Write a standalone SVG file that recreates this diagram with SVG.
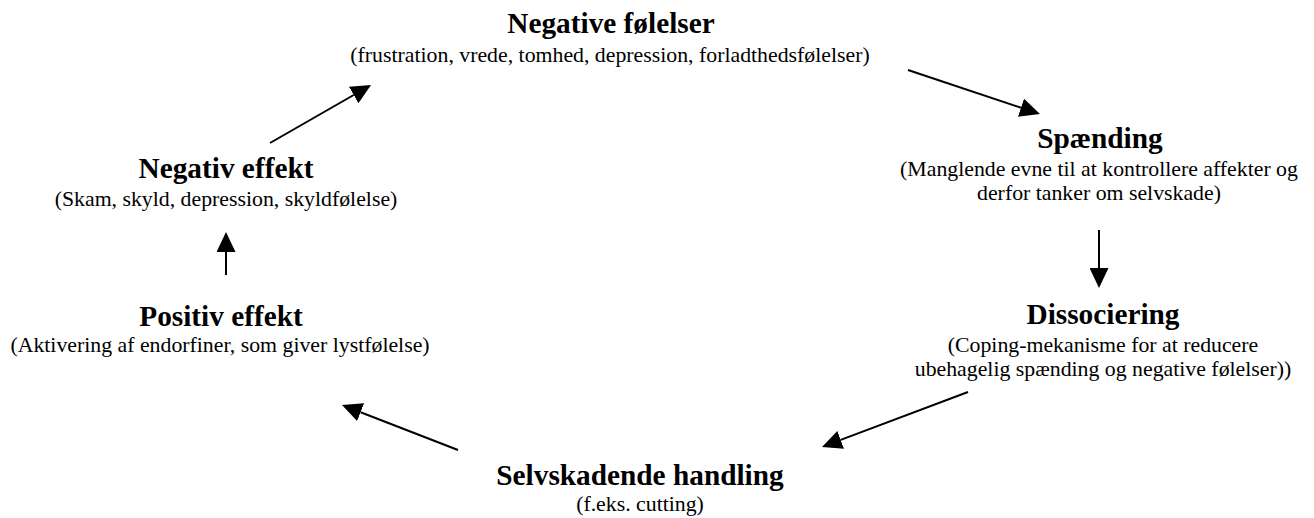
<svg xmlns="http://www.w3.org/2000/svg" width="1314" height="518" viewBox="0 0 1314 518">
<style>
.t{font-family:"Liberation Serif","Times New Roman",serif;font-weight:bold;font-size:29.3px;fill:#000;text-anchor:middle}
.s{font-family:"Liberation Serif","Times New Roman",serif;font-size:21.8px;fill:#000;text-anchor:middle}
.c{stroke:#000;stroke-width:2;fill:none;marker-end:url(#ah)}
</style>
<defs>
<marker id="ah" markerUnits="userSpaceOnUse" markerWidth="20" markerHeight="19" refX="0" refY="9.5" orient="auto" viewBox="0 0 20 19">
<path d="M0,0 L20,9.5 L0,19 z" fill="#000"/>
</marker>
</defs>
<rect width="1314" height="518" fill="#fff"/>
<g id="connectors">
<line class="c" x1="270" y1="143" x2="353.7" y2="95"/>
<line class="c" x1="908" y1="70" x2="1021" y2="107.7"/>
<line class="c" x1="1099" y1="230" x2="1099" y2="268"/>
<line class="c" x1="968" y1="392" x2="840.7" y2="439.9"/>
<line class="c" x1="458" y1="450" x2="360.6" y2="412.2"/>
<line class="c" x1="226" y1="275" x2="226" y2="252"/>
</g>
<g id="negative-folelser">
<text class="t" x="611" y="33">Negative følelser</text>
<text class="s" x="610" y="62">(frustration, vrede, tomhed, depression, forladthedsfølelser)</text>
</g>
<g id="spaending">
<text class="t" x="1100" y="148">Spænding</text>
<text class="s" x="1099" y="176">(Manglende evne til at kontrollere affekter og</text>
<text class="s" x="1099" y="200">derfor tanker om selvskade)</text>
</g>
<g id="dissociering">
<text class="t" x="1103" y="324">Dissociering</text>
<text class="s" x="1103" y="352">(Coping-mekanisme for at reducere</text>
<text class="s" x="1103" y="376">ubehagelig spænding og negative følelser))</text>
</g>
<g id="selvskadende-handling">
<text class="t" x="640" y="485">Selvskadende handling</text>
<text class="s" x="640" y="511">(f.eks. cutting)</text>
</g>
<g id="positiv-effekt">
<text class="t" x="221" y="326">Positiv effekt</text>
<text class="s" x="220" y="352">(Aktivering af endorfiner, som giver lystfølelse)</text>
</g>
<g id="negativ-effekt">
<text class="t" x="226" y="178">Negativ effekt</text>
<text class="s" x="226" y="206">(Skam, skyld, depression, skyldfølelse)</text>
</g>
</svg>
